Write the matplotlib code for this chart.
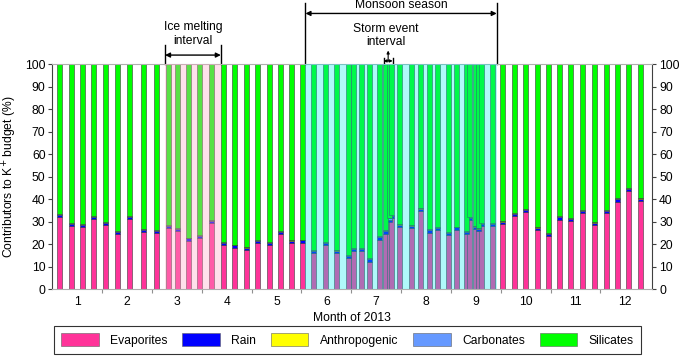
import matplotlib
matplotlib.use("Agg")
import matplotlib.pyplot as plt
import numpy as np

plt.rcParams['font.family'] = ['Liberation Sans', 'DejaVu Sans']

# sample position in months (0 = start of January)
pos = [0.15, 0.38, 0.60, 0.83, 1.06, 1.31, 1.55, 1.82, 2.08, 2.32,
       2.51, 2.73, 2.96, 3.19, 3.43, 3.66, 3.89, 4.12, 4.35, 4.57,
       4.80, 5.02, 5.25, 5.48, 5.71, 5.95, 6.05, 6.21, 6.37, 6.57,
       6.68, 6.76, 6.81, 6.97, 7.21, 7.38, 7.57, 7.73, 7.96, 8.12,
       8.32, 8.37, 8.50, 8.56, 8.61, 8.84, 9.04, 9.27, 9.50, 9.73,
       9.96, 10.18, 10.41, 10.65, 10.89, 11.12, 11.34, 11.57, 11.81]

# contributions to K+ budget (%)
evaporites = [32.0, 28.1, 27.4, 31.0, 28.4, 24.3, 31.0, 25.3, 25.0, 27.0,
              25.8, 21.4, 22.6, 29.3, 19.4, 18.4, 17.4, 20.3, 19.5, 24.3,
              20.5, 20.5, 15.9, 19.4, 16.1, 13.6, 16.9, 16.9, 12.2, 22.0,
              24.7, 29.8, 31.5, 27.7, 27.2, 34.8, 25.1, 26.1, 24.0, 26.4,
              24.4, 30.5, 26.8, 25.9, 28.0, 28.0, 29.0, 32.4, 34.1, 26.3,
              23.5, 30.9, 30.1, 33.7, 28.5, 33.8, 38.9, 43.5, 39.2]
rain = [1.0, 0.9, 1.0, 1.0, 0.9, 1.1, 1.0, 1.0, 0.9, 1.0,
        1.0, 1.1, 1.0, 1.0, 1.0, 1.0, 1.0, 1.0, 1.0, 1.0,
        1.0, 1.1, 1.0, 1.0, 1.0, 1.0, 1.0, 1.0, 1.0, 1.0,
        1.0, 1.0, 1.0, 1.0, 1.0, 1.0, 1.0, 1.0, 1.0, 1.0,
        1.0, 1.0, 1.0, 1.0, 1.0, 1.0, 1.0, 1.0, 1.0, 1.0,
        1.0, 1.0, 1.0, 1.0, 1.0, 1.0, 1.0, 1.0, 1.0]
anthropogenic = [0.1] * len(pos)
carbonates = [0.3, 0.3, 0.3, 0.3, 0.3, 0.3, 0.3, 0.3, 0.3, 0.3,
              0.3, 0.3, 0.3, 0.3, 0.3, 0.3, 0.3, 0.3, 0.3, 0.3,
              0.3, 0.3, 0.3, 0.3, 0.3, 0.3, 0.3, 0.3, 0.3, 0.3,
              0.5, 0.5, 0.5, 0.3, 0.3, 0.3, 0.3, 0.3, 0.3, 0.3,
              0.3, 0.5, 0.3, 0.3, 0.3, 0.3, 0.3, 0.3, 0.3, 0.3,
              0.3, 0.3, 0.3, 0.3, 0.3, 0.3, 0.3, 0.3, 0.3]

months = ['1', '2', '3', '4', '5', '6', '7', '8', '9', '10', '11', '12']
ice_interval = (2.26, 3.38)
monsoon = (5.08, 8.92)
storm = (6.65, 6.83)

colors = {'Evaporites': '#ff3399', 'Rain': '#0000ff', 'Anthropogenic': '#ffff00',
          'Carbonates': '#6699ff', 'Silicates': '#00ff00'}

evap = np.array(evaporites)
rn = np.array(rain)
ant = np.array(anthropogenic)
carb = np.array(carbonates)
sil = 100 - evap - rn - ant - carb

fig = plt.figure(figsize=(6.85, 3.6), dpi=100)
ax = fig.add_axes([0.0766, 0.197, 0.8754, 0.625])

w = 0.1
bottom = np.zeros(len(pos))
for name, vals in [('Evaporites', evap), ('Rain', rn), ('Anthropogenic', ant),
                   ('Carbonates', carb), ('Silicates', sil)]:
    ax.bar(pos, vals, width=w, bottom=bottom, color=colors[name],
           edgecolor='#3a3a3a', linewidth=0.4, label=name, zorder=2)
    bottom = bottom + vals

# shaded periods drawn over the bars
ax.axvspan(*ice_interval, color='#ffaac6', alpha=0.35, lw=0, zorder=3)
ax.axvspan(*monsoon, color='#00eef0', alpha=0.31, lw=0, zorder=3)

ax.set_xlim(0, 12.04)
ax.set_ylim(0, 100)
ax.set_yticks(np.arange(0, 101, 10))
ax.tick_params(axis='y', labelsize=8.7, length=3, color='#404040',
               right=True, labelright=True, pad=2)
ax.set_xticks(np.arange(1, 12), minor=False)
ax.set_xticklabels([])
ax.tick_params(axis='x', length=3, color='#909090')
ax.set_xticks(np.arange(0.5, 12, 1), minor=True)
ax.set_xticklabels(months, minor=True)
ax.tick_params(axis='x', which='minor', length=0, labelsize=8.7, pad=5)
for s in ['left', 'right']:
    ax.spines[s].set_color('#404040')
for s in ['top', 'bottom']:
    ax.spines[s].set_color('#b0b0b0')

ax.set_ylabel('Contributors to K$^{+}$ budget (%)', fontsize=8.7, labelpad=4)
ax.set_xlabel('Month of 2013', fontsize=8.7, labelpad=3)

# annotations above the plot
kw = dict(color='black', lw=1, clip_on=False)
ax.plot([monsoon[0]] * 2, [100, 127], **kw)
ax.plot([monsoon[1]] * 2, [100, 127], **kw)
ax.annotate('', xy=(monsoon[0], 122.5), xytext=(monsoon[1], 122.5),
            arrowprops=dict(arrowstyle='<|-|>', color='black', lw=1,
                            shrinkA=0, shrinkB=0, mutation_scale=7),
            annotation_clip=False)
ax.text(sum(monsoon) / 2, 126.2, 'Monsoon season', ha='center', va='center',
        fontsize=8.7, clip_on=False)

ax.plot([ice_interval[0]] * 2, [100, 108.5], **kw)
ax.plot([ice_interval[1]] * 2, [100, 108.5], **kw)
ax.annotate('', xy=(ice_interval[0], 104), xytext=(ice_interval[1], 104),
            arrowprops=dict(arrowstyle='<|-|>', color='black', lw=1,
                            shrinkA=0, shrinkB=0, mutation_scale=7),
            annotation_clip=False)
ax.text(sum(ice_interval) / 2, 113.2, 'Ice melting\ninterval', ha='center',
        va='center', fontsize=8.7, linespacing=1.2, clip_on=False)

ax.plot([storm[0]] * 2, [100, 102.7], **kw)
ax.plot([storm[1]] * 2, [100, 102.7], **kw)
ax.annotate('', xy=(storm[0], 101.4), xytext=(storm[1], 101.4),
            arrowprops=dict(arrowstyle='<|-|>', color='black', lw=0.8,
                            shrinkA=0, shrinkB=0, mutation_scale=4),
            annotation_clip=False)
ax.annotate('', xy=(sum(storm) / 2, 106), xytext=(sum(storm) / 2, 101.4),
            arrowprops=dict(arrowstyle='-|>', color='black', lw=0.8,
                            shrinkA=0, shrinkB=0, mutation_scale=4),
            annotation_clip=False)
ax.text(6.70, 112.7, 'Storm event\ninterval', ha='center', va='center',
        fontsize=8.7, linespacing=1.2, clip_on=False)

leg = fig.legend(loc='center', ncol=5, fontsize=8.7,
                 bbox_to_anchor=(48 / 685, 2 / 360, 599 / 685, 36 / 360),
                 mode='expand', frameon=True, fancybox=False,
                 edgecolor='black', handlelength=3.1, handleheight=1.3,
                 handletextpad=0.95, columnspacing=0.85, borderpad=0.6)
leg.get_frame().set_linewidth(0.8)
for h in leg.legend_handles:
    h.set_edgecolor('#606060')

fig.savefig('out.png', dpi=100)
